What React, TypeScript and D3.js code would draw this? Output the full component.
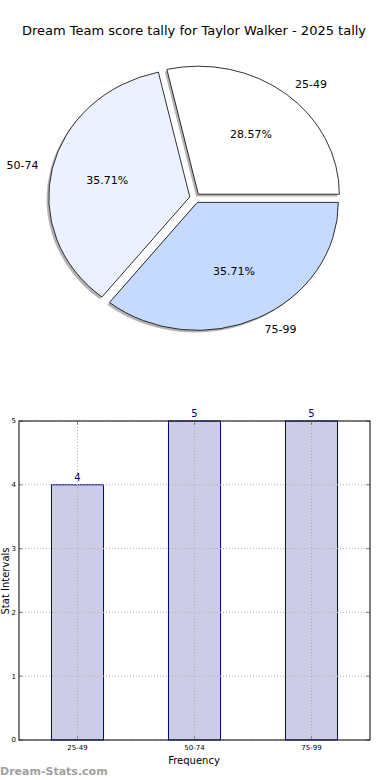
import React from "react";
import * as d3 from "d3";

const categories = ["25-49", "50-74", "75-99"];
const counts = [4, 5, 5];
const pieColors = ["#ffffff", "#ebf1ff", "#c6d9ff"];
const yTicks = [0, 1, 2, 3, 4, 5];
const title = "Dream Team score tally for Taylor Walker - 2025 tally";

const W = 390;
const H = 780;
const FONT = "DejaVu Sans, sans-serif";

export default function App() {
  // Pie geometry
  const cx = 195;
  const cy = 198;
  const rx = 141;
  const ry = 128;
  const explode = 0.038;
  const total = d3.sum(counts);
  const pie = d3
    .pie<number>()
    .sort(null)
    .value((d) => d)
    .startAngle(Math.PI / 2)
    .endAngle(Math.PI / 2 - 2 * Math.PI);
  const arcs = pie(counts);
  const arc = d3.arc<d3.PieArcDatum<number>>().innerRadius(0).outerRadius(1);

  // Bar geometry
  const x = d3.scaleLinear().domain([-0.5, 2.5]).range([19, 370]);
  const y = d3.scaleLinear().domain([0, 5]).range([740, 421]);
  const barW = 0.445;

  const slices = arcs.map((a, i) => {
    const mid = (a.startAngle + a.endAngle) / 2;
    const ux = Math.sin(mid);
    const uy = -Math.cos(mid);
    const ox = cx + explode * rx * ux;
    const oy = cy + explode * ry * uy;
    return { a, i, ux, uy, ox, oy };
  });

  return (
    <svg
      width={W}
      height={H}
      style={{ position: "absolute", left: 0, top: 0, background: "#fff" }}
      fontFamily={FONT}
    >
      <rect width={W} height={H} fill="#fff" />
      <text x={194} y={35} fontSize={13} textAnchor="middle" fill="#000">
        {title}
      </text>
      {/* shadows */}
      {slices.map((s) => (
        <g key={"sh" + s.i} transform={`translate(${s.ox - 2.2},${s.oy + 2.2}) scale(${rx},${ry})`}>
          <path d={arc(s.a) || ""} fill="#4d4d4d" opacity={0.42} />
        </g>
      ))}
      {slices.map((s) => (
        <g key={"sl" + s.i} transform={`translate(${s.ox},${s.oy}) scale(${rx},${ry})`}>
          <path
            d={arc(s.a) || ""}
            fill={pieColors[s.i]}
            stroke="#000"
            strokeWidth={0.8}
            vectorEffect="non-scaling-stroke"
            strokeLinejoin="round"
          />
        </g>
      ))}
      {slices.map((s) => {
        const lx = s.ox + 1.1 * rx * s.ux;
        const ly = s.oy + 1.1 * ry * s.uy;
        const px = s.ox + 0.6 * rx * s.ux;
        const py = s.oy + 0.6 * ry * s.uy;
        const pct = ((counts[s.i] / total) * 100).toFixed(2) + "%";
        return (
          <g key={"lb" + s.i} fontSize={11} fill="#000">
            <text x={lx} y={ly} dy="0.35em" textAnchor={s.ux > 0 ? "start" : "end"}>
              {categories[s.i]}
            </text>
            <text x={px} y={py} dy="0.35em" textAnchor="middle">
              {pct}
            </text>
          </g>
        );
      })}

      {/* Bar chart */}
      {categories.map((c, i) => (
        <rect
          key={"b" + c}
          x={x(i - barW / 2)}
          y={y(counts[i])}
          width={x(barW) - x(0)}
          height={y(0) - y(counts[i])}
          fill="#ccccE6"
          stroke="#000080"
          strokeWidth={1}
        />
      ))}
      {/* grid */}
      {yTicks.map((t) => (
        <line
          key={"gy" + t}
          x1={x(-0.5)}
          x2={x(2.5)}
          y1={y(t)}
          y2={y(t)}
          stroke="#b0b0b0"
          strokeDasharray="1,2"
          strokeWidth={1}
        />
      ))}
      {categories.map((c, i) => (
        <line
          key={"gx" + c}
          x1={x(i)}
          x2={x(i)}
          y1={y(0)}
          y2={y(5)}
          stroke="#b0b0b0"
          strokeDasharray="1,2"
          strokeWidth={1}
        />
      ))}
      {/* ticks */}
      {yTicks.map((t) => (
        <g key={"ty" + t}>
          <line x1={x(-0.5)} x2={x(-0.5) + 4} y1={y(t)} y2={y(t)} stroke="#888" />
          <line x1={x(2.5)} x2={x(2.5) - 4} y1={y(t)} y2={y(t)} stroke="#888" />
          <text x={x(-0.5) - 3} y={y(t)} dy="0.35em" fontSize={7} textAnchor="end" fill="#000">
            {t}
          </text>
        </g>
      ))}
      {categories.map((c, i) => (
        <g key={"tx" + c}>
          <line x1={x(i)} x2={x(i)} y1={y(0)} y2={y(0) - 4} stroke="#888" />
          <line x1={x(i)} x2={x(i)} y1={y(5)} y2={y(5) + 4} stroke="#888" />
          <text x={x(i)} y={y(0) + 10} fontSize={7} textAnchor="middle" fill="#000">
            {c}
          </text>
        </g>
      ))}
      <rect
        x={x(-0.5)}
        y={y(5)}
        width={x(2.5) - x(-0.5)}
        height={y(0) - y(5)}
        fill="none"
        stroke="#000"
        strokeWidth={1}
      />
      {categories.map((c, i) => (
        <text
          key={"v" + c}
          x={x(i)}
          y={y(counts[i]) - 4}
          fontSize={10}
          textAnchor="middle"
          fill="#000080"
        >
          {counts[i]}
        </text>
      ))}
      <text x={194} y={764} fontSize={10} textAnchor="middle" fill="#000">
        Frequency
      </text>
      <text
        transform={`translate(9,${581}) rotate(-90)`}
        fontSize={10}
        textAnchor="middle"
        fill="#000"
      >
        Stat Intervals
      </text>
      <text x={0} y={775} fontSize={11} fontWeight="bold" fill="#a0a0a0">
        Dream-Stats.com
      </text>
    </svg>
  );
}
